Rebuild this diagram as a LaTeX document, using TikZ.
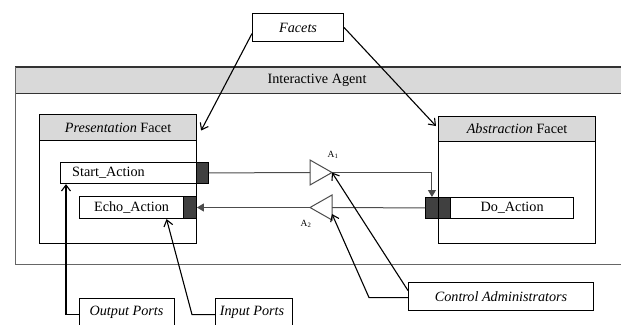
\documentclass[tikz,border=0pt]{standalone}
\usepackage{fontspec}
\setmainfont{Liberation Serif}
\usetikzlibrary{arrows.meta,calc}
\definecolor{headgray}{gray}{0.85}
\definecolor{portgray}{gray}{0.25}
\definecolor{flowgray}{gray}{0.3}
\definecolor{edgegray}{gray}{0.4}

\begin{document}
\begin{tikzpicture}[x=1pt,y=-1pt,
  font=\fontsize{14.2}{16}\selectfont,
  box/.style={draw, line width=1.1pt, fill=white, inner sep=0pt, anchor=north west},
  head/.style={box, fill=headgray},
  port/.style={draw, line width=0.9pt, fill=portgray, inner sep=0pt, anchor=north west},
  lbl/.style={inner sep=0pt},
  note/.style={line width=1.1pt, -{Straight Barb[length=6pt,width=9pt]}},
  flow/.style={draw=flowgray, line width=1pt},
  flowarrow/.style={flow, -{Triangle[length=7pt,width=8pt]}},
  amp/.style={draw=flowgray, line width=1pt, fill=white, line join=miter},
  sublbl/.style={inner sep=0pt, font=\fontsize{9.5}{10}\selectfont},
]
\useasboundingbox (0,0) rectangle (621,324);
\clip (0,0) rectangle (621,324);

% agent band
\node[anchor=north west, fill=headgray, minimum width=612, minimum height=26, inner sep=0pt] (agent) at (15,67) {};
\node[lbl] at (317,80) {Interactive Agent};
\draw[line width=1.5pt, black!80] (agent.north west) -- (agent.north east);
\draw[line width=1.5pt, black!80] (agent.south west) -- (agent.south east);
\draw[line width=1pt, edgegray] (agent.north west) -- (15,264) -- (625,264);

% facets label
\node[box, minimum width=91, minimum height=28] (facets) at (252,13) {};
\node[lbl] at (facets.center) {\textit{Facets}};

% presentation facet
\node[box, minimum width=157, minimum height=103] (pres) at (39,140) {};
\node[head, minimum width=157, minimum height=26] (preshead) at (39,114) {};
\node[lbl] at (preshead.center) {\textit{Presentation} Facet};

% abstraction facet
\node[box, minimum width=157, minimum height=102] (abs) at (438,141) {};
\node[head, minimum width=157, minimum height=25] (abshead) at (438,116) {};
\node[lbl] at (abshead.center) {\textit{Abstraction} Facet};

% ports
\node[box, minimum width=136, minimum height=21] (start) at (60,162) {};
\node[lbl, anchor=west] at ([xshift=12pt]start.west) {Start\_Action};
\node[port, minimum width=12, minimum height=21] (startport) at (196,162) {};

\node[box, minimum width=104, minimum height=22] (echo) at (79,196) {};
\node[lbl] at (echo.center) {Echo\_Action};
\node[port, minimum width=13, minimum height=22] (echoport) at (183,196) {};

\node[box, minimum width=123, minimum height=21] (do) at (450,197) {};
\node[lbl] at (do.center) {Do\_Action};
\node[port, minimum width=13, minimum height=21] (doport) at (425,197) {};
\node[port, minimum width=12, minimum height=21] (doport2) at (438,197) {};

% control administrators (amplifiers)
\coordinate (a1in) at (310,172.5);
\coordinate (a1out) at (332,172.5);
\draw[amp] (310,160) -- (a1out) -- (310,185) -- cycle;
\node[sublbl] at (333,155) {A\textsubscript{1}};

\coordinate (a2in) at (332,207.5);
\coordinate (a2out) at (310,207.5);
\coordinate (a2low) at (332,214);
\draw[amp] (332,195) -- (a2out) -- (332,220) -- cycle;
\node[sublbl] at (306,224) {A\textsubscript{2}};

% data flow
\draw[flow] (startport.east) -- (a1in);
\draw[flowarrow] (a1out) -| (doport.north);
\draw[flow] (doport.west) -- (a2in);
\draw[flowarrow] (a2out) -- (a2out -| echoport.east);

% annotation boxes
\node[box, minimum width=185, minimum height=28] (ctrl) at (408,282) {};
\node[lbl] at (ctrl.center) {\textit{Control Administrators}};
\node[box, minimum width=95, minimum height=32] (outp) at (79,298) {};
\node[lbl] at (126.5,312) {\textit{Output Ports}};
\node[box, minimum width=77, minimum height=32] (inp) at (215,298) {};
\node[lbl] at (252,312) {\textit{Input Ports}};

% annotation arrows
\coordinate (presmark) at ([shift={(4,3)}]preshead.east);
\coordinate (absmark) at ([shift={(-2,-3)}]abshead.west);
\draw[note] ([yshift=-6pt]facets.west) -- (presmark);
\draw[note] (facets.east) -- (absmark);
\draw[note] ([yshift=6pt]ctrl.west) -- (a1out);
\draw[note] ([yshift=-1pt]ctrl.west) -- ++(-39,0) -- (a2low);
\draw[note] (outp.west) -| ([xshift=6pt]start.south west);
\draw[note] (inp.west) -- ++(-23,0) -- ([xshift=35pt]echo.south);
\end{tikzpicture}
\end{document}
